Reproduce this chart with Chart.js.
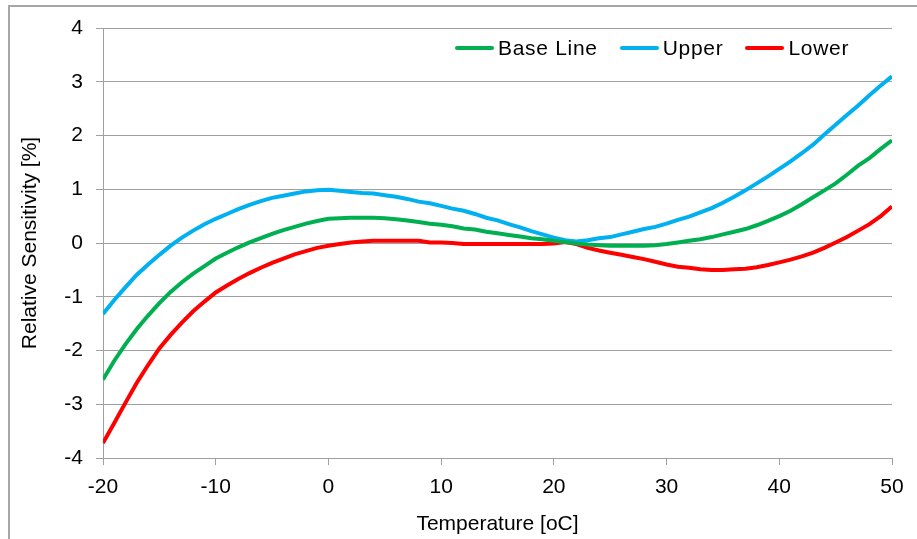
<!DOCTYPE html>
<html>
<head>
<meta charset="utf-8">
<script src="https://cdn.jsdelivr.net/npm/chart.js@4.4.1/dist/chart.umd.min.js"></script>
<style>
    html, body { margin: 0; padding: 0; background: #fff; }
    #wrap { position: relative; width: 917px; height: 539px; overflow: hidden; font-family: 'Liberation Sans', Arial, sans-serif; }
    #frame { position: absolute; left: 8px; top: 5px; width: 920px; height: 540px; border-left: 2px solid #a6a6a6; border-top: 2px solid #a6a6a6; box-sizing: border-box; }
    #line_chart { position: absolute; left: 0; top: 0; }
    #legend { position: absolute; left: 455px; top: 36px; display: flex; font-size: 21px; line-height: 24px; letter-spacing: 0.7px; color: #000; white-space: nowrap; }
    #legend .item { display: flex; align-items: center; margin-right: 22px; }
    #legend .swatch { width: 39px; height: 4px; margin-right: 4px; border-radius: 2px; }
</style>
</head>
<body>
<div id="wrap">
    <div id="frame"></div>
    <canvas id="line_chart" width="917" height="539"></canvas>
    <div id="legend"></div>
</div>
<script>
var temperatures = [-20, -19, -18, -17, -16, -15, -14, -13, -12, -11, -10, -9, -8, -7, -6, -5, -4, -3, -2, -1,
    0, 1, 2, 3, 4, 5, 6, 7, 8, 9, 10, 11, 12, 13, 14, 15, 16, 17, 18, 19,
    20, 21, 22, 23, 24, 25, 26, 27, 28, 29, 30, 31, 32, 33, 34, 35, 36, 37, 38, 39,
    40, 41, 42, 43, 44, 45, 46, 47, 48, 49, 50];

var baseLine = [-2.54, -2.19, -1.88, -1.60, -1.35, -1.12, -0.91, -0.73, -0.57, -0.43, -0.29, -0.18, -0.08, 0.01, 0.09, 0.17, 0.24, 0.30, 0.36, 0.41,
    0.45, 0.46, 0.47, 0.47, 0.47, 0.46, 0.44, 0.42, 0.39, 0.36, 0.34, 0.31, 0.27, 0.25, 0.21, 0.18, 0.15, 0.12, 0.09, 0.07,
    0.04, 0.02, -0.01, -0.03, -0.04, -0.05, -0.05, -0.05, -0.05, -0.04, -0.02, 0.01, 0.04, 0.07, 0.11, 0.16, 0.21, 0.26, 0.33, 0.41,
    0.50, 0.60, 0.72, 0.85, 0.98, 1.11, 1.27, 1.44, 1.58, 1.75, 1.91];

var upper = [-1.32, -1.06, -0.82, -0.59, -0.40, -0.22, -0.05, 0.10, 0.23, 0.35, 0.45, 0.54, 0.63, 0.71, 0.78, 0.84, 0.88, 0.92, 0.96, 0.98,
    0.99, 0.97, 0.95, 0.93, 0.92, 0.89, 0.86, 0.82, 0.77, 0.74, 0.69, 0.64, 0.60, 0.54, 0.47, 0.42, 0.35, 0.29, 0.22, 0.16,
    0.10, 0.05, 0.03, 0.05, 0.09, 0.11, 0.16, 0.21, 0.26, 0.30, 0.36, 0.43, 0.49, 0.57, 0.65, 0.75, 0.86, 0.98, 1.11, 1.24,
    1.38, 1.52, 1.67, 1.83, 2.02, 2.20, 2.38, 2.56, 2.75, 2.93, 3.10];

var lower = [-3.72, -3.35, -2.97, -2.60, -2.27, -1.96, -1.71, -1.48, -1.27, -1.09, -0.92, -0.79, -0.67, -0.56, -0.46, -0.37, -0.29, -0.21, -0.15, -0.09,
    -0.05, -0.02, 0.01, 0.03, 0.04, 0.04, 0.04, 0.04, 0.04, 0.01, 0.01, 0.00, -0.02, -0.02, -0.02, -0.02, -0.02, -0.02, -0.02, -0.02,
    -0.01, 0.02, -0.02, -0.09, -0.14, -0.18, -0.22, -0.26, -0.30, -0.35, -0.40, -0.44, -0.46, -0.49, -0.50, -0.50, -0.49, -0.48, -0.45, -0.41,
    -0.36, -0.31, -0.25, -0.18, -0.09, 0.01, 0.11, 0.23, 0.35, 0.50, 0.68];

var seriesNames = ["Base Line", "Upper", "Lower"];
var seriesColors = ['#00b050', '#00b0f0', '#ff0000'];

function toPoints(values) {
    return temperatures.map(function (t, i) {
        return { x: t, y: values[i] };
    });
}

Chart.defaults.font.family = "'Liberation Sans', Arial, sans-serif";
Chart.defaults.font.size = 21;
Chart.defaults.color = '#000';

var chart = new Chart(document.getElementById("line_chart").getContext("2d"), getChartJs());
buildLegend(chart);

// legend sits inside the plot, top right, like the Excel original
function buildLegend(chart) {
    var box = document.getElementById('legend');
    chart.data.datasets.forEach(function (ds) {
        var item = document.createElement('div');
        item.className = 'item';
        var swatch = document.createElement('span');
        swatch.className = 'swatch';
        swatch.style.background = ds.borderColor;
        item.appendChild(swatch);
        item.appendChild(document.createTextNode(ds.label));
        box.appendChild(item);
    });
}

function getChartJs() {
    var gridColor = '#a0a0a0';
    var config = {
        type: 'line',
        data: {
            datasets: [baseLine, upper, lower].map(function (values, i) {
                return {
                    label: seriesNames[i],
                    data: toPoints(values),
                    borderColor: seriesColors[i],
                    backgroundColor: seriesColors[i],
                    borderWidth: 4,
                    pointRadius: 0,
                    tension: 0
                };
            })
        },
        options: {
            responsive: false,
            animation: false,
            layout: {
                padding: { top: 28, right: 25, left: 0, bottom: 0 }
            },
            plugins: {
                tooltip: { enabled: false },
                legend: false
            },
            scales: {
                x: {
                    type: 'linear',
                    min: -20,
                    max: 50,
                    ticks: { stepSize: 10, padding: 10, maxRotation: 0 },
                    grid: { drawOnChartArea: false, color: gridColor, tickLength: 7 },
                    border: { color: gridColor },
                    title: { display: true, text: 'Temperature [oC]', padding: { top: 0, bottom: 2 } },
                    afterFit: function (scale) { scale.height = 81; }
                },
                y: {
                    min: -4,
                    max: 4,
                    ticks: { stepSize: 1, padding: 13 },
                    grid: { color: gridColor, tickLength: 7 },
                    border: { color: gridColor },
                    title: { display: true, text: 'Relative Sensitivity [%]', padding: { top: 18, bottom: 0 } },
                    afterFit: function (scale) { scale.width = 103; }
                }
            }
        }
    };
    return config;
}
</script>
</body>
</html>
